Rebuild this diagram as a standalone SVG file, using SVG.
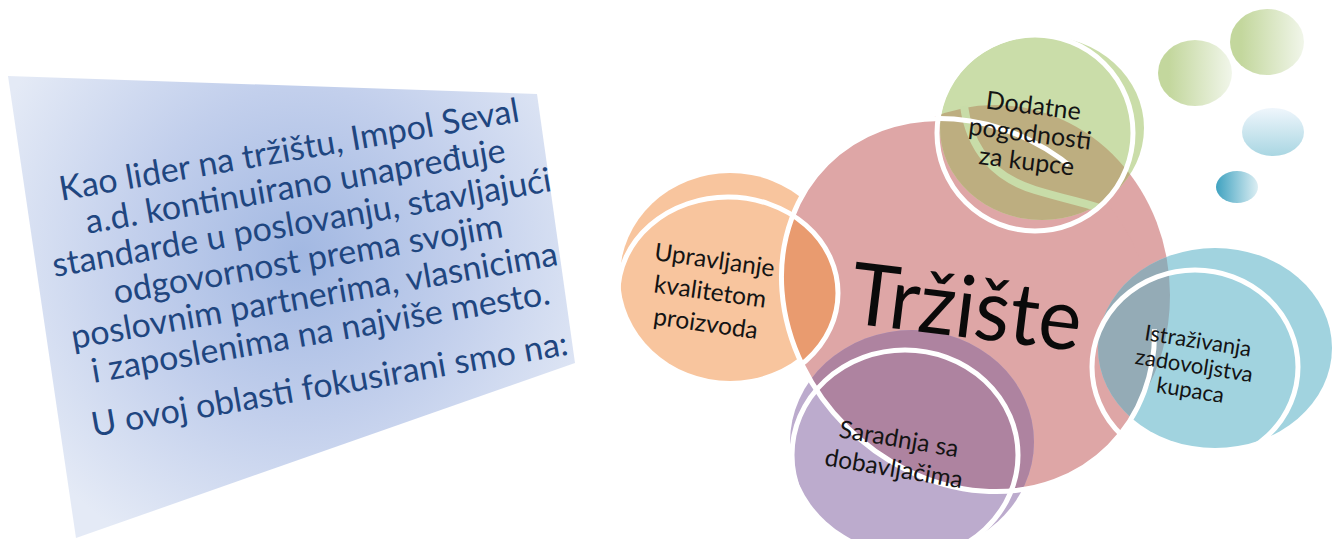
<svg xmlns="http://www.w3.org/2000/svg" width="1333" height="539" viewBox="0 0 1333 539">
<defs>
<style>
.lbl{font-family:Lato,"Liberation Sans",sans-serif;font-size:23.5px;fill:#141414;text-anchor:middle}
.ptxt{font-family:Lato,"Liberation Sans",sans-serif;font-size:34px;fill:#1f4680;text-anchor:middle}
.big{font-family:Lato,"Liberation Sans",sans-serif;font-size:86px;fill:#0a0a0a;text-anchor:middle}
.ring{fill:none;stroke:#ffffff;stroke-width:5}
</style>
<radialGradient id="panelGrad" gradientUnits="userSpaceOnUse" cx="300" cy="255" r="330">
<stop offset="0" stop-color="#a2b8e2"/>
<stop offset="0.5" stop-color="#c2cfec"/>
<stop offset="1" stop-color="#e4eaf6"/>
</radialGradient>
<linearGradient id="gGreen" x1="0" y1="0" x2="1" y2="0">
<stop offset="0.15" stop-color="#c3d79d"/>
<stop offset="1" stop-color="#f1f6ea"/>
</linearGradient>
<linearGradient id="gBlueV" x1="0" y1="0" x2="0" y2="1">
<stop offset="0" stop-color="#eff6fc"/>
<stop offset="1" stop-color="#a9d6e2"/>
</linearGradient>
<linearGradient id="gBlueH" x1="0" y1="0" x2="1" y2="0">
<stop offset="0" stop-color="#3fa2c0"/>
<stop offset="1" stop-color="#dceef3"/>
</linearGradient>
<clipPath id="clipPink">
<ellipse cx="995" cy="295" rx="175" ry="190"/>
<ellipse cx="968" cy="305" rx="200" ry="172" transform="rotate(45 968 305)"/>
</clipPath>
<clipPath id="clipGreenRing">
<ellipse cx="1035" cy="133" rx="97" ry="97"/>
</clipPath>
<mask id="maskOrange">
<rect width="1333" height="539" fill="#fff"/>
<ellipse cx="995" cy="295" rx="175" ry="190" fill="#000"/>
<ellipse cx="968" cy="305" rx="200" ry="172" transform="rotate(45 968 305)" fill="#000"/>
<ellipse cx="728" cy="293" rx="110" ry="96" fill="#fff"/>
</mask>
<mask id="maskNoGreen">
<rect width="1333" height="539" fill="#fff"/>
<ellipse cx="1042" cy="128" rx="102" ry="92" fill="#000"/>
</mask>
</defs>
<rect width="1333" height="539" fill="#ffffff"/>

<g id="panel">
<polygon points="8,76 537,94 575,363 76,538" fill="url(#panelGrad)"/>
<g transform="rotate(-9.8 300 260)">
<text class="ptxt" x="308" y="161">Kao lider na tržištu, Impol Seval</text>
<text class="ptxt" x="308" y="198">a.d. kontinuirano unapređuje</text>
<text class="ptxt" x="308" y="235">standarde u poslovanju, stavljajući</text>
<text class="ptxt" x="308" y="272">odgovornost prema svojim</text>
<text class="ptxt" x="308" y="309">poslovnim partnerima, vlasnicima</text>
<text class="ptxt" x="308" y="346">i zaposlenima na najviše mesto.</text>
<text class="ptxt" x="308" y="399">U ovoj oblasti fokusirani smo na:</text>
</g>
</g>

<g id="bubbles">
<ellipse cx="1267" cy="42" rx="37" ry="33" fill="url(#gGreen)"/>
<ellipse cx="1195" cy="73" rx="37" ry="33" fill="url(#gGreen)"/>
<ellipse cx="1273" cy="132" rx="31" ry="24" fill="url(#gBlueV)"/>
<ellipse cx="1237" cy="187" rx="21" ry="16" fill="url(#gBlueH)"/>
</g>

<g id="node-trziste">
<ellipse cx="995" cy="295" rx="175" ry="190" fill="#dea6a6"/>
<ellipse cx="968" cy="305" rx="200" ry="172" transform="rotate(45 968 305)" fill="#dea6a6"/>
</g>

<g id="node-upravljanje">
<ellipse cx="730" cy="277" rx="110" ry="104" fill="#f8c59e" mask="url(#maskOrange)"/>
<ellipse cx="728" cy="293" rx="110" ry="96" fill="#e99b6f" clip-path="url(#clipPink)"/>
<ellipse class="ring" cx="728" cy="293" rx="110" ry="96"/>
</g>

<g id="node-dodatne">
<ellipse cx="1042" cy="128" rx="102" ry="92" fill="#cadda9"/>
<ellipse cx="1042" cy="128" rx="102" ry="92" fill="#bdae80" clip-path="url(#clipPink)"/>
<path d="M 964 106 C 970 150, 995 178, 1035 190 S 1092 204, 1110 212" fill="none" stroke="#c8dca8" stroke-width="8" clip-path="url(#clipGreenRing)"/>
<ellipse class="ring" cx="1035" cy="133" rx="98" ry="98"/>
</g>

<g id="node-istrazivanja">
<ellipse cx="1215" cy="348" rx="117" ry="100" fill="#a1d3df"/>
<ellipse cx="1215" cy="348" rx="117" ry="100" fill="#94abb6" clip-path="url(#clipPink)"/>
<ellipse class="ring" cx="1195" cy="367" rx="103" ry="97"/>
</g>

<g id="node-saradnja">
<ellipse cx="912" cy="442" rx="122" ry="112" fill="#bcabcd"/>
<ellipse cx="912" cy="442" rx="122" ry="112" fill="#ae83a0" clip-path="url(#clipPink)"/>
<ellipse class="ring" cx="905" cy="455" rx="113" ry="105"/>
</g>

<g id="node-trziste-ring">
<ellipse class="ring" cx="968" cy="305" rx="200" ry="172" transform="rotate(45 968 305)" mask="url(#maskNoGreen)"/>
</g>

<g id="connectors"></g>

<g id="labels">
<g id="label-trziste" transform="rotate(7 963 337)">
<text class="big" x="963" y="337" textLength="232" lengthAdjust="spacingAndGlyphs">Tržište</text>
</g>
<g id="label-upravljanje" transform="rotate(8 709 300)" class="lbl" style="font-size:24.5px">
<text x="709" y="268">Upravljanje</text>
<text x="709" y="300">kvalitetom</text>
<text x="709" y="332">proizvoda</text>
</g>
<g id="label-dodatne" transform="rotate(7 1029 142)" class="lbl" style="font-size:25px">
<text x="1029" y="114">Dodatne</text>
<text x="1029" y="142">pogodnosti</text>
<text x="1029" y="170">za kupce</text>
</g>
<g id="label-istrazivanja" transform="rotate(9 1193 373)" class="lbl" style="font-size:22px">
<text x="1193" y="348">Istraživanja</text>
<text x="1193" y="373">zadovoljstva</text>
<text x="1193" y="398">kupaca</text>
</g>
<g id="label-saradnja" transform="rotate(9.5 895 462)" class="lbl" style="font-size:24.5px">
<text x="895" y="447">Saradnja sa</text>
<text x="895" y="477">dobavljačima</text>
</g>
</g>
</svg>
